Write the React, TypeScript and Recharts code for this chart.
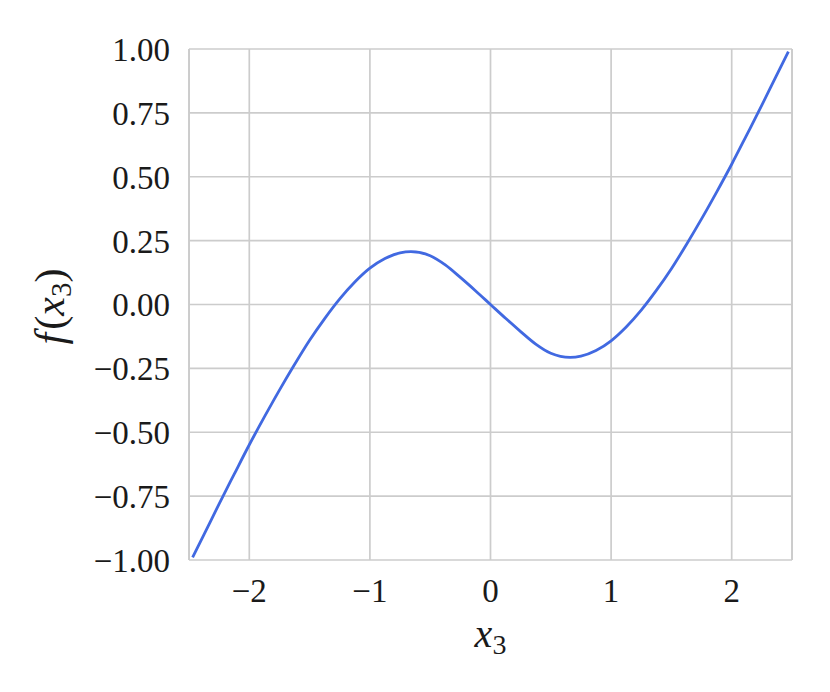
import { LineChart, Line, XAxis, YAxis, CartesianGrid, ReferenceLine, Label } from 'recharts'

const X_VALUES = [
  -2.47, -2.375, -2.25, -2.125, -2.0, -1.875, -1.75, -1.625, -1.5, -1.375, -1.25, -1.125,
  -1.0, -0.875, -0.75, -0.66, -0.5, -0.375, -0.25, -0.125, 0,
  0.125, 0.25, 0.375, 0.5, 0.66, 0.75, 0.875, 1.0, 1.125, 1.25, 1.375,
  1.5, 1.625, 1.75, 1.875, 2.0, 2.125, 2.25, 2.375, 2.47,
]
const F_VALUES = [
  -0.99, -0.9, -0.78, -0.664, -0.549, -0.44, -0.335, -0.235, -0.14, -0.055, 0.022, 0.088,
  0.142, 0.18, 0.202, 0.207, 0.191, 0.155, 0.106, 0.054, 0,
  -0.054, -0.106, -0.155, -0.191, -0.207, -0.202, -0.18, -0.142, -0.088, -0.022, 0.055,
  0.14, 0.235, 0.335, 0.44, 0.549, 0.664, 0.78, 0.9, 0.99,
]
const X_TICKS = [-2, -1, 0, 1, 2]
const Y_TICKS = [-1, -0.75, -0.5, -0.25, 0, 0.25, 0.5, 0.75, 1]
const X_DOMAIN: [number, number] = [-2.5, 2.5]

const rows = X_VALUES.map((x, i) => ({ x, f: F_VALUES[i] }))

const SERIF = '"Liberation Serif", "DejaVu Serif", serif'
const INK = '#1a1a1a'
const GRID = '#cccccc'

const minus = (s: string) => s.replace('-', '\u2212')

function XTick({ x, y, payload }: any) {
  return (
    <text x={x} y={y} dy="0.71em" textAnchor="middle" fontFamily={SERIF} fontSize={33} fill={INK}>
      {minus(String(payload.value))}
    </text>
  )
}

function YTick({ x, y, payload }: any) {
  return (
    <text x={x} y={y} dy="0.36em" textAnchor="end" fontFamily={SERIF} fontSize={33} fill={INK}>
      {minus(Number(payload.value).toFixed(2))}
    </text>
  )
}

function XTitle({ viewBox }: any) {
  const cx = viewBox.x + viewBox.width / 2
  return (
    <text x={cx} y={viewBox.y + 87} textAnchor="middle" fontFamily={SERIF} fontSize={40} fill={INK}>
      <tspan fontStyle="italic">x</tspan>
      <tspan fontSize={28} dy={7}>3</tspan>
    </text>
  )
}

function YTitle({ viewBox }: any) {
  const bx = 64
  const cy = viewBox.y + viewBox.height / 2 + 2
  return (
    <text
      x={bx}
      y={cy}
      textAnchor="middle"
      transform={`rotate(-90, ${bx}, ${cy})`}
      fontFamily={SERIF}
      fontSize={42}
      fill={INK}
    >
      <tspan fontStyle="italic">f</tspan>
      <tspan dx={3}>(</tspan>
      <tspan fontStyle="italic">x</tspan>
      <tspan fontSize={29} dy={7}>3</tspan>
      <tspan dy={-7}>)</tspan>
    </text>
  )
}

export default function App() {
  return (
    <div style={{ position: 'absolute', left: 0, top: 0, width: 830, height: 692, background: '#fff' }}>
      <LineChart width={830} height={692} data={rows} margin={{ top: 49, right: 38, bottom: 72, left: 0 }}>
        <CartesianGrid stroke={GRID} strokeWidth={1.7} />
        <XAxis
          type="number"
          dataKey="x"
          domain={X_DOMAIN}
          ticks={X_TICKS}
          allowDataOverflow
          axisLine={false}
          tickLine={false}
          tickSize={0}
          tickMargin={19}
          height={60}
          tick={<XTick />}
        >
          <Label content={<XTitle />} />
        </XAxis>
        <YAxis
          type="number"
          domain={[-1, 1]}
          ticks={Y_TICKS}
          axisLine={false}
          tickLine={false}
          tickSize={0}
          tickMargin={19}
          width={189}
          tick={<YTick />}
        >
          <Label content={<YTitle />} />
        </YAxis>
        <ReferenceLine x={X_DOMAIN[0]} stroke={GRID} strokeWidth={1.7} />
        <ReferenceLine x={X_DOMAIN[1]} stroke={GRID} strokeWidth={1.7} />
        <Line
          type="monotone"
          dataKey="f"
          stroke="#4169e1"
          strokeWidth={2.8}
          dot={false}
          activeDot={false}
          isAnimationActive={false}
        />
      </LineChart>
    </div>
  )
}
